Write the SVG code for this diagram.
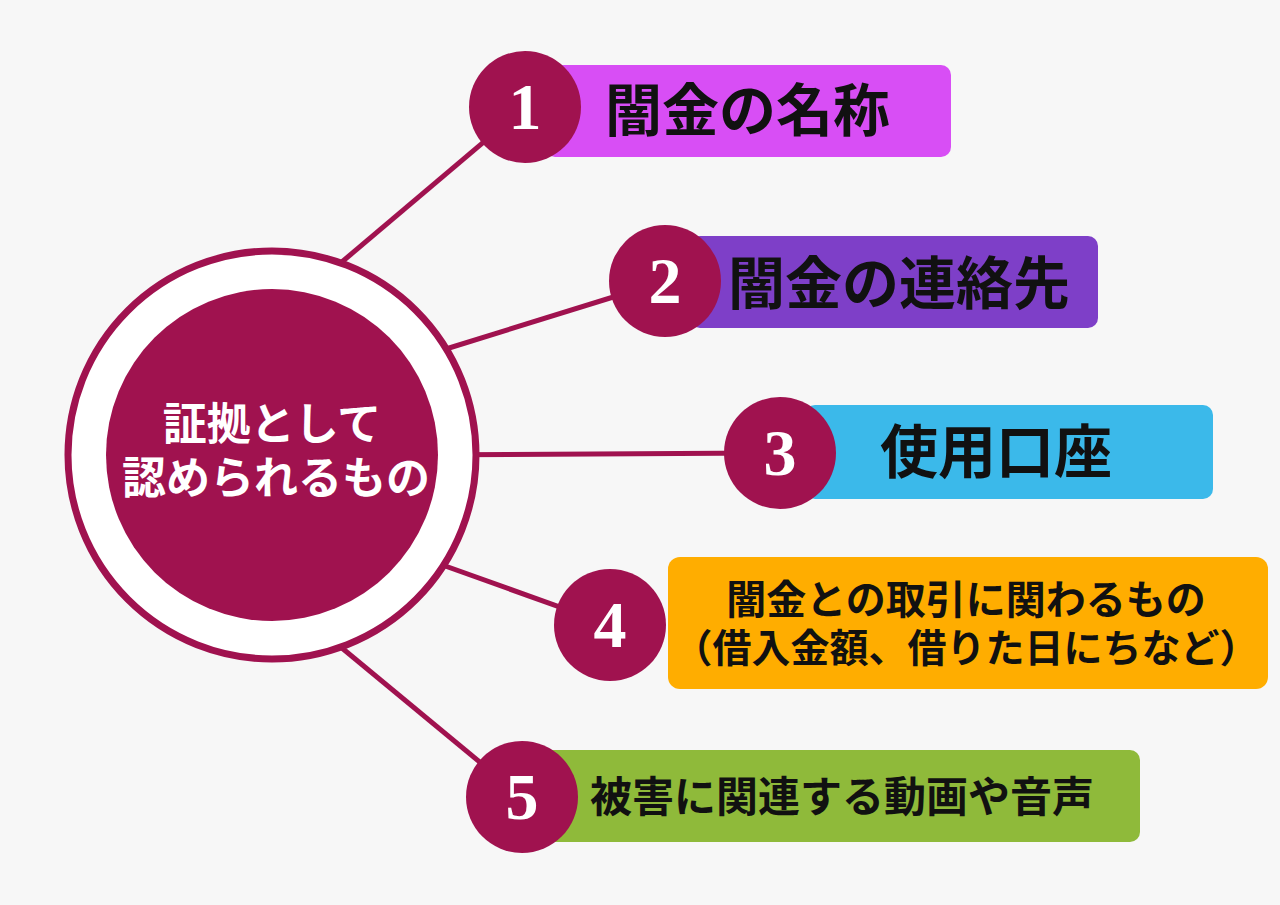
<svg xmlns="http://www.w3.org/2000/svg" width="1280" height="905" viewBox="0 0 1280 905">
<style>
.t{font-family:"Noto Sans CJK JP","Noto Sans",sans-serif;font-weight:bold;fill:#111}
.n{font-family:"Liberation Serif",serif;font-weight:bold;fill:#fff;font-size:66px;text-anchor:middle}
.c{fill:#a0124f}
.ln{stroke:#a0124f;stroke-width:5}
</style>
<rect width="1280" height="905" fill="#f7f7f7"/>
<g id="connectors">
<line class="ln" x1="330" y1="272" x2="525" y2="107"/>
<line class="ln" x1="420" y1="357" x2="665" y2="281"/>
<line class="ln" x1="400" y1="455" x2="780" y2="453"/>
<line class="ln" x1="420" y1="557" x2="610" y2="625"/>
<line class="ln" x1="325" y1="634" x2="522" y2="797"/>
</g>
<g id="center">
<circle cx="272" cy="455" r="204" fill="#fff" stroke="#a0124f" stroke-width="7"/>
<circle class="c" cx="272" cy="455" r="166"/>
<text class="t" x="272" y="440" font-size="44" text-anchor="middle" style="fill:#fff">証拠として</text>
<text class="t" x="276" y="494" font-size="44" text-anchor="middle" style="fill:#fff">認められるもの</text>
</g>
<g id="node1">
<rect x="545" y="65" width="406" height="92" rx="10" fill="#d84ef5"/>
<circle class="c" cx="525" cy="107" r="56"/>
<text class="n" x="525" y="129">1</text>
<text class="t" x="605" y="131" font-size="57">闇金の名称</text>
</g>
<g id="node2">
<rect x="690" y="236" width="408" height="92" rx="10" fill="#7e3fc8"/>
<circle class="c" cx="665" cy="281" r="56"/>
<text class="n" x="665" y="303">2</text>
<text class="t" x="728" y="304" font-size="57">闇金の連絡先</text>
</g>
<g id="node3">
<rect x="805" y="405" width="408" height="94" rx="10" fill="#3bb9ea"/>
<circle class="c" cx="780" cy="453" r="56"/>
<text class="n" x="780" y="475">3</text>
<text class="t" x="880" y="473" font-size="58">使用口座</text>
</g>
<g id="node4">
<rect x="668" y="557" width="600" height="132" rx="12" fill="#ffad00"/>
<circle class="c" cx="610" cy="625" r="56"/>
<text class="n" x="610" y="647">4</text>
<text class="t" x="966" y="614" font-size="40" text-anchor="middle">闇金との取引に関わるもの</text>
<text class="t" x="966" y="662" font-size="39" text-anchor="middle">（借入金額、借りた日にちなど）</text>
</g>
<g id="node5">
<rect x="540" y="750" width="600" height="92" rx="10" fill="#8fba3a"/>
<circle class="c" cx="522" cy="797" r="56"/>
<text class="n" x="522" y="819">5</text>
<text class="t" x="590" y="812" font-size="42">被害に関連する動画や音声</text>
</g>
</svg>
